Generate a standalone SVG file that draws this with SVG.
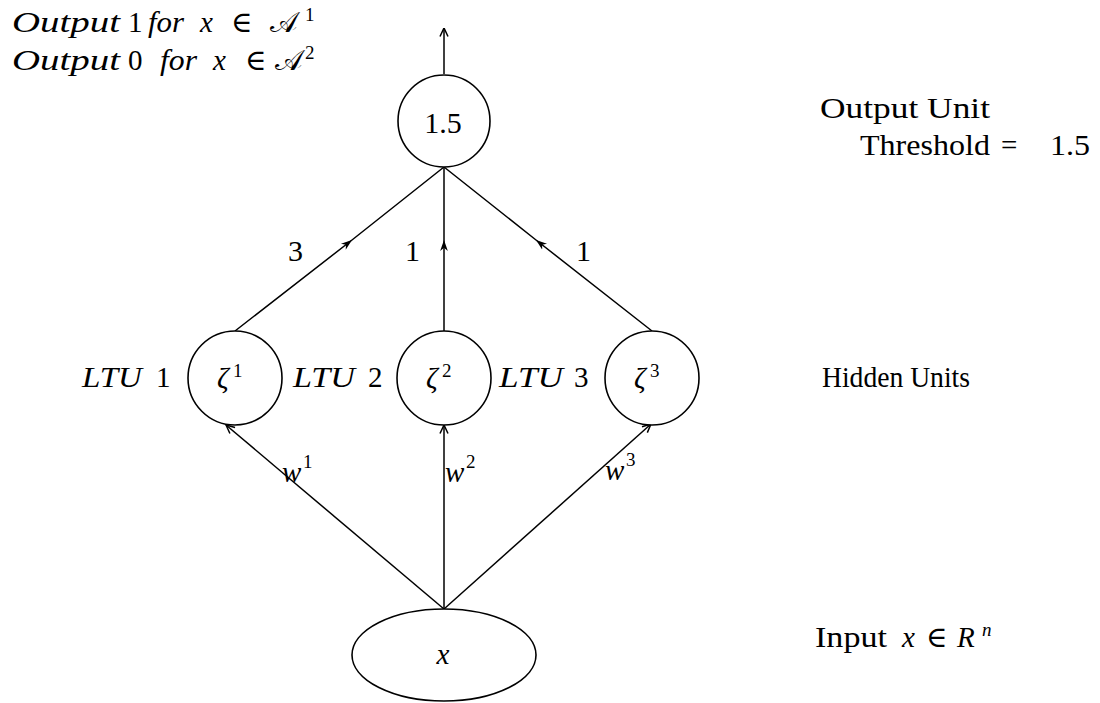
<svg xmlns="http://www.w3.org/2000/svg" width="1100" height="703" viewBox="0 0 1100 703">
<style>
  text { font-family: "Liberation Serif", "DejaVu Serif", serif; font-size: 29px; fill: #000; }
  .it { font-style: italic; }
  .sup { font-size: 19px; }
  .num { font-size: 30px; }
  .node { fill: #fff; stroke: #000; stroke-width: 1.6; }
  .edge { fill: none; stroke: #000; stroke-width: 1.5; }
</style>
<defs>
  <marker id="endArrow" viewBox="0 0 10 10" refX="9.5" refY="5" markerWidth="10" markerHeight="10" markerUnits="userSpaceOnUse" orient="auto">
    <path d="M1,1 L9.5,5 L1,9" fill="none" stroke="#000" stroke-width="1.5"/>
  </marker>
  <marker id="midArrow" viewBox="0 0 10 10" refX="10" refY="5" markerWidth="11" markerHeight="11" markerUnits="userSpaceOnUse" orient="auto">
    <path d="M0,1.5 L10,5 L0,8.5 L3,5 z" fill="#000"/>
  </marker>
</defs>

<rect width="1100" height="703" fill="#fff"/>

<g id="connectors">
  <line class="edge" x1="444" y1="74" x2="444" y2="28" marker-end="url(#endArrow)"/>
  <polyline class="edge" points="235,331 352,240 444,167" marker-mid="url(#midArrow)"/>
  <polyline class="edge" points="444,331 444,240 444,167" marker-mid="url(#midArrow)"/>
  <polyline class="edge" points="652,331 536,240 444,167" marker-mid="url(#midArrow)"/>
  <line class="edge" x1="444" y1="609" x2="226" y2="425" marker-end="url(#endArrow)"/>
  <line class="edge" x1="444" y1="609" x2="444" y2="425" marker-end="url(#endArrow)"/>
  <line class="edge" x1="444" y1="609" x2="651" y2="424" marker-end="url(#endArrow)"/>
</g>

<g id="output-unit">
  <circle class="node" cx="444" cy="121" r="46"/>
  <text class="num" x="443" y="133" text-anchor="middle">1.5</text>
</g>

<g id="hidden-1">
  <circle class="node" cx="235" cy="378" r="47"/>
  <text class="it" x="217" y="388">ζ</text>
  <text class="sup" x="233" y="377">1</text>
</g>
<g id="hidden-2">
  <circle class="node" cx="444" cy="378" r="47"/>
  <text class="it" x="426" y="388">ζ</text>
  <text class="sup" x="442" y="377">2</text>
</g>
<g id="hidden-3">
  <circle class="node" cx="652" cy="378" r="47"/>
  <text class="it" x="634" y="388">ζ</text>
  <text class="sup" x="650" y="377">3</text>
</g>

<g id="input">
  <ellipse class="node" cx="444" cy="655" rx="92" ry="46"/>
  <text class="it" x="443" y="664" text-anchor="middle">x</text>
</g>

<g id="edge-labels">
  <text class="num" x="288" y="261">3</text>
  <text class="num" x="405" y="261">1</text>
  <text class="num" x="576" y="261">1</text>
  <text class="it" x="282" y="482">w</text><text class="sup" x="303" y="468">1</text>
  <text class="it" x="445" y="482">w</text><text class="sup" x="466" y="468">2</text>
  <text class="it" x="605" y="480">w</text><text class="sup" x="626" y="466">3</text>
</g>

<g id="ltu-labels">
  <text class="it" x="82" y="387" textLength="60" lengthAdjust="spacingAndGlyphs">LTU</text>
  <text x="156" y="387">1</text>
  <text class="it" x="293" y="387" textLength="62" lengthAdjust="spacingAndGlyphs">LTU</text>
  <text x="368" y="387">2</text>
  <text class="it" x="499" y="387" textLength="64" lengthAdjust="spacingAndGlyphs">LTU</text>
  <text x="574" y="387">3</text>
</g>

<g id="output-legend">
  <text class="it" x="12" y="32" textLength="108" lengthAdjust="spacingAndGlyphs">Output</text>
  <text x="128" y="32">1</text>
  <text class="it" x="148" y="32" textLength="36" lengthAdjust="spacingAndGlyphs">for</text>
  <text class="it" x="200" y="32">x</text>
  <text x="231" y="32">∈</text>
  <text x="270" y="32">𝒜</text>
  <text class="sup" x="305" y="21">1</text>

  <text class="it" x="12" y="70" textLength="108" lengthAdjust="spacingAndGlyphs">Output</text>
  <text x="128" y="70">0</text>
  <text class="it" x="160" y="70" textLength="37" lengthAdjust="spacingAndGlyphs">for</text>
  <text class="it" x="213" y="70">x</text>
  <text x="245" y="70">∈</text>
  <text x="275" y="70">𝒜</text>
  <text class="sup" x="305" y="59">2</text>
</g>

<g id="side-labels">
  <text x="820" y="118" textLength="170" lengthAdjust="spacingAndGlyphs">Output Unit</text>
  <text x="860" y="155" textLength="130" lengthAdjust="spacingAndGlyphs">Threshold</text>
  <text x="1001" y="155">=</text>
  <text x="1050" y="155" textLength="40" lengthAdjust="spacingAndGlyphs">1.5</text>
  <text x="822" y="387" textLength="148" lengthAdjust="spacingAndGlyphs">Hidden Units</text>
  <text x="815" y="647" textLength="72" lengthAdjust="spacingAndGlyphs">Input</text>
  <text class="it" x="902" y="647">x</text>
  <text x="926" y="647">∈</text>
  <text class="it" x="957" y="647">R</text>
  <text class="it sup" x="982" y="636">n</text>
</g>
</svg>
